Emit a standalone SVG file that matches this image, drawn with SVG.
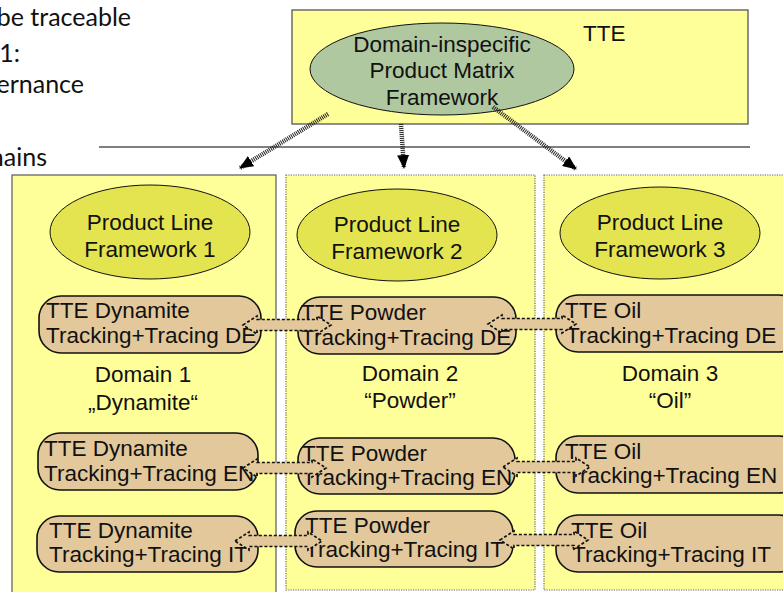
<svg xmlns="http://www.w3.org/2000/svg" width="783" height="592" viewBox="0 0 783 592">
<defs>
<style>
.t{font-family:"Liberation Sans",Arial,sans-serif;font-size:22.5px;fill:#111}
.c{text-anchor:middle}
.lt{font-family:Lato,"Open Sans",sans-serif;font-size:25px;fill:#111;text-anchor:end}
.col{fill:#ffff99}
.dot{stroke:#666;stroke-width:1.2;stroke-dasharray:1.2 1.2}
.plf{fill:#e4e450;stroke:#111;stroke-width:1}
.node{fill:#e2c89a;stroke:#111;stroke-width:1.6}
.conn{fill:#e2c89a;stroke:#111;stroke-width:1.7;stroke-dasharray:3 2}
.arr{stroke:#222;stroke-width:4.5;stroke-dasharray:1 1;fill:none}
</style>
<marker id="ah" viewBox="0 0 14 12" refX="13" refY="6" markerWidth="14" markerHeight="12" markerUnits="userSpaceOnUse" orient="auto">
<path d="M0,0 L14,6 L0,12 z" fill="#000"/>
</marker>
</defs>
<rect width="783" height="592" fill="#fff"/>

<g id="bg-text">
<text class="lt" x="131" y="26">be traceable</text>
<text class="lt" x="20" y="62">1:</text>
<text class="lt" x="84" y="93">ernance</text>
<text class="lt" x="47" y="166">nains</text>
</g>
<line x1="99" y1="147" x2="750" y2="147" stroke="#555" stroke-width="1.3"/>

<g id="tte">
<rect x="292" y="10" width="456" height="114" class="col" stroke="#555" stroke-width="1.3"/>
<text class="t" x="583" y="41">TTE</text>
</g>
<g id="dipmf">
<ellipse cx="442" cy="69" rx="132" ry="46" fill="#b0c8a0" stroke="#111" stroke-width="1"/>
<text class="t c" x="442" y="52">Domain-inspecific</text>
<text class="t c" x="442" y="78">Product Matrix</text>
<text class="t c" x="442" y="105">Framework</text>
</g>

<g id="domain1">
<rect x="12" y="175" width="264" height="430" class="col" stroke="#666" stroke-width="1.3"/>
<text class="t c" x="143" y="382">Domain 1</text>
<text class="t c" x="143" y="410">„Dynamite“</text>
</g>
<g id="domain2">
<rect x="286" y="175" width="249" height="415" class="col dot"/>
<text class="t c" x="410" y="381">Domain 2</text>
<text class="t c" x="410" y="408">“Powder”</text>
</g>
<g id="domain3">
<rect x="544" y="175" width="260" height="415" class="col dot"/>
<text class="t c" x="670" y="381">Domain 3</text>
<text class="t c" x="670" y="408">“Oil”</text>
</g>

<g id="plf1">
<ellipse cx="150" cy="232" rx="100" ry="47" class="plf"/>
<text class="t c" x="150" y="230">Product Line</text>
<text class="t c" x="150" y="257">Framework 1</text>
</g>
<g id="plf2">
<ellipse cx="397" cy="235" rx="100" ry="46" class="plf"/>
<text class="t c" x="397" y="232">Product Line</text>
<text class="t c" x="397" y="259">Framework 2</text>
</g>
<g id="plf3">
<ellipse cx="660" cy="233" rx="100" ry="46" class="plf"/>
<text class="t c" x="660" y="230">Product Line</text>
<text class="t c" x="660" y="257">Framework 3</text>
</g>

<g id="dyn-de">
<rect x="39" y="296" width="222" height="57" rx="22" class="node"/>
<text class="t" x="46" y="318">TTE Dynamite</text>
<text class="t" x="46" y="343">Tracking+Tracing DE</text>
</g>
<g id="pow-de">
<rect x="298" y="297" width="218" height="57" rx="22" class="node"/>
<text class="t" x="301" y="320">TTE Powder</text>
<text class="t" x="301" y="345">Tracking+Tracing DE</text>
</g>
<g id="oil-de">
<rect x="556" y="295" width="245" height="57" rx="22" class="node"/>
<text class="t" x="565" y="318">TTE Oil</text>
<text class="t" x="566" y="343">Tracking+Tracing DE</text>
</g>

<g id="dyn-en">
<rect x="38" y="433" width="220" height="57" rx="22" class="node"/>
<text class="t" x="44" y="456">TTE Dynamite</text>
<text class="t" x="44" y="481">Tracking+Tracing EN</text>
</g>
<g id="pow-en">
<rect x="298" y="438" width="217" height="56" rx="22" class="node"/>
<text class="t" x="302" y="461">TTE Powder</text>
<text class="t" x="302" y="485">Tracking+Tracing EN</text>
</g>
<g id="oil-en">
<rect x="556" y="436" width="245" height="57" rx="22" class="node"/>
<text class="t" x="565" y="459">TTE Oil</text>
<text class="t" x="567" y="483">Tracking+Tracing EN</text>
</g>

<g id="dyn-it">
<rect x="37" y="516" width="221" height="56" rx="22" class="node"/>
<text class="t" x="49" y="538">TTE Dynamite</text>
<text class="t" x="49" y="562">Tracking+Tracing IT</text>
</g>
<g id="pow-it">
<rect x="295" y="511" width="218" height="56" rx="22" class="node"/>
<text class="t" x="305" y="533">TTE Powder</text>
<text class="t" x="305" y="557">Tracking+Tracing IT</text>
</g>
<g id="oil-it">
<rect x="556" y="515" width="245" height="57" rx="22" class="node"/>
<text class="t" x="571" y="538">TTE Oil</text>
<text class="t" x="572" y="562">Tracking+Tracing IT</text>
</g>

<g id="connectors">
<line x1="328" y1="114" x2="240" y2="168" class="arr" marker-end="url(#ah)"/>
<line x1="401" y1="124" x2="404" y2="168" class="arr" marker-end="url(#ah)"/>
<line x1="493" y1="107" x2="576" y2="169" class="arr" marker-end="url(#ah)"/>
<path class="conn" d="M243,325 L257,316 L257,319.5 L317,319.5 L317,316 L331,325 L317,334 L317,330.5 L257,330.5 L257,334 Z"/>
<path class="conn" d="M488,324 L502,315 L502,318.5 L562,318.5 L562,315 L576,324 L562,333 L562,329.5 L502,329.5 L502,333 Z"/>
<path class="conn" d="M243,468 L257,459 L257,462.5 L312,462.5 L312,459 L326,468 L312,477 L312,473.5 L257,473.5 L257,477 Z"/>
<path class="conn" d="M503,467 L517,458 L517,461.5 L576,461.5 L576,458 L590,467 L576,476 L576,472.5 L517,472.5 L517,476 Z"/>
<path class="conn" d="M235,541 L249,532 L249,535.5 L308,535.5 L308,532 L322,541 L308,550 L308,546.5 L249,546.5 L249,550 Z"/>
<path class="conn" d="M500,540 L514,531 L514,534.5 L574,534.5 L574,531 L588,540 L574,549 L574,545.5 L514,545.5 L514,549 Z"/>
</g>
</svg>
